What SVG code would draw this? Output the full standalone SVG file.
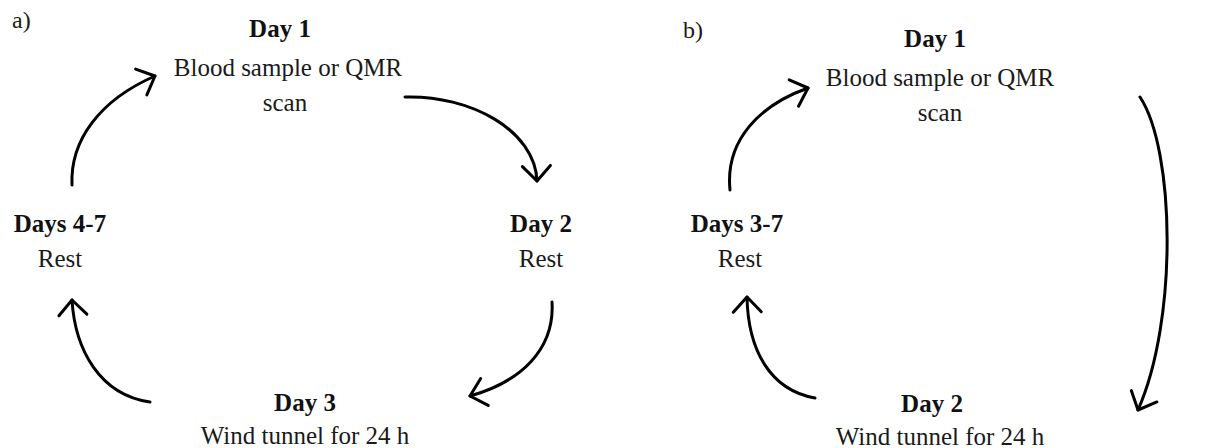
<svg xmlns="http://www.w3.org/2000/svg" width="1209" height="448" viewBox="0 0 1209 448">
<style>
text{font-family:"Liberation Serif","Times New Roman",serif;fill:#1a1a1a;text-anchor:middle}
.t{font-size:25px;font-weight:bold;fill:#111}
.d{font-size:25px}
.lbl{font-size:24px;text-anchor:start}
.c{fill:none;stroke:#000;stroke-width:3;stroke-linecap:round}
</style>
<defs>
<marker id="ah" viewBox="0 0 40 40" markerWidth="40" markerHeight="40" markerUnits="userSpaceOnUse" refX="20" refY="20" orient="auto">
<path d="M5 6 L20 20 L5 34" fill="none" stroke="#000" stroke-width="3" stroke-linecap="round" stroke-linejoin="round"/>
</marker>
</defs>
<rect width="1209" height="448" fill="#fff"/>
<text class="lbl" x="12" y="28">a)</text>
<text class="lbl" x="683" y="38">b)</text>
<g id="a-day1"><text class="t" x="280" y="37">Day 1</text><text class="d" x="288" y="76">Blood sample or QMR</text><text class="d" x="285" y="111">scan</text></g>
<g id="a-day2"><text class="t" x="541" y="232">Day 2</text><text class="d" x="541" y="267">Rest</text></g>
<g id="a-day3"><text class="t" x="305" y="411">Day 3</text><text class="d" x="305" y="444">Wind tunnel for 24 h</text></g>
<g id="a-day47"><text class="t" x="60" y="232">Days 4-7</text><text class="d" x="60" y="267">Rest</text></g>
<g id="b-day1"><text class="t" x="935" y="47">Day 1</text><text class="d" x="940" y="86">Blood sample or QMR</text><text class="d" x="940" y="121">scan</text></g>
<g id="b-day2"><text class="t" x="932" y="412">Day 2</text><text class="d" x="940" y="445">Wind tunnel for 24 h</text></g>
<g id="b-day37"><text class="t" x="737" y="232">Days 3-7</text><text class="d" x="740" y="267">Rest</text></g>
<g id="connectors">
<path class="c" d="M72 185 C70 140 100 100 155 76" marker-end="url(#ah)"/>
<path class="c" d="M405 97 C470 95 535 130 537 181" marker-end="url(#ah)"/>
<path class="c" d="M552 302 C555 350 520 382 470 396" marker-end="url(#ah)"/>
<path class="c" d="M150 402 C100 395 75 350 72 300" marker-end="url(#ah)"/>
<path class="c" d="M730 190 C725 140 760 105 808 88" marker-end="url(#ah)"/>
<path class="c" d="M1140 97 C1175 150 1178 320 1138 410" marker-end="url(#ah)"/>
<path class="c" d="M815 398 C770 390 748 350 747 297" marker-end="url(#ah)"/>
</g>
</svg>
